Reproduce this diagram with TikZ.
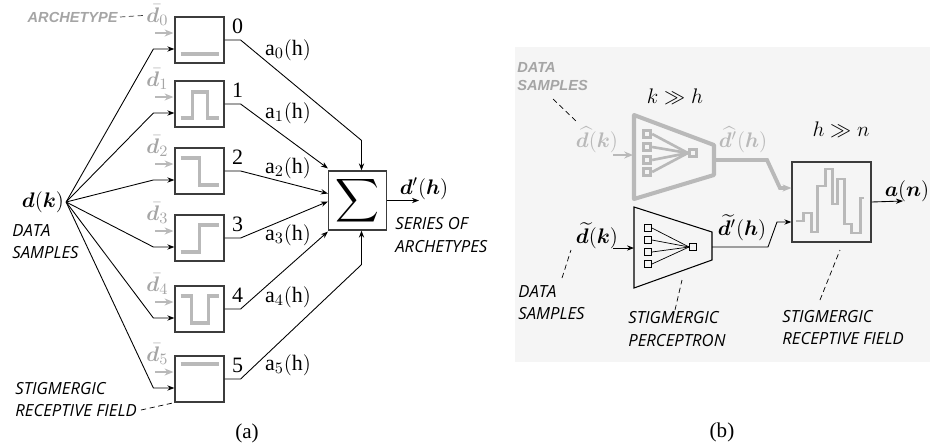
\documentclass[tikz,border=0pt]{standalone}
\usepackage{fontspec}
\setmainfont{Liberation Serif}
\setsansfont{Open Sans}
\newfontfamily\ghostfont{Liberation Sans}
\usepackage{amsmath}
\usepackage{amssymb}
\usepackage{bm}
\usetikzlibrary{arrows.meta, positioning, calc}

\definecolor{ghost}{RGB}{185,185,185}
\definecolor{ghosttext}{RGB}{165,165,165}
\definecolor{panelbg}{RGB}{245,245,245}
\definecolor{boxline}{RGB}{60,60,60}

\begin{document}
\begin{tikzpicture}[x=0.02cm, y=-0.02cm,
    arch/.style={draw=boxline, line width=0.7pt, minimum width=0.98cm, minimum height=0.92cm, inner sep=0pt},
    sumbox/.style={draw=boxline, line width=0.7pt, minimum width=1.16cm, minimum height=1.18cm, inner sep=0pt},
    fieldbox/.style={draw=boxline, line width=0.7pt, minimum width=1.58cm, minimum height=1.6cm, inner sep=0pt},
    cellsq/.style={draw, line width=0.5pt, minimum size=0.14cm, inner sep=0pt},
    ghostsq/.style={draw=ghost, line width=1.6pt, minimum size=0.15cm, inner sep=0pt},
    wave/.style={draw=ghost, line width=2.2pt},
    flow/.style={-{Stealth[length=4pt,width=3pt]}, line width=0.5pt},
    ghostflow/.style={-{Stealth[length=5pt,width=4pt]}, draw=ghost},
    sym/.style={font=\fontsize{12.5}{14}\selectfont, inner sep=1pt},
    note/.style={font=\fontsize{9.5}{12.8}\selectfont\sffamily\itshape, align=left, inner sep=0pt},
    ghostnote/.style={font=\fontsize{8.3}{9.8}\selectfont\ghostfont\bfseries\itshape, text=ghosttext, align=left, inner sep=0pt},
    pointer/.style={densely dashed, line width=0.4pt}
]
\useasboundingbox (0,0) rectangle (930,447);

% Left: series of archetypes
\foreach \i/\y in {0/40,1/104,2/171,3/238,4/309,5/379}
  \node[arch] (arch\i) at (199.5,\y) {};

\node[sym] (dk) at (43,202) {$\bm{d}(\bm{k})$};
\node[sumbox] (sum) at (357.5,200.5) {\LARGE$\displaystyle\sum$};

% archetype shapes
\draw[wave, shift={(arch0.center)}] (-19,14) -- (19,14);
\draw[wave, shift={(arch1.center)}] (-19,14) -- (-7,14) -- (-7,-12) -- (8,-12) -- (8,14) -- (19,14);
\draw[wave, shift={(arch2.center)}] (-19,-13) -- (0,-13) -- (0,14) -- (19,14);
\draw[wave, shift={(arch3.center)}] (-19,14) -- (0,14) -- (0,-13) -- (19,-13);
\draw[wave, shift={(arch4.center)}] (-19,-13) -- (-8,-13) -- (-8,14) -- (9,14) -- (9,-13) -- (19,-13);
\draw[wave, shift={(arch5.center)}] (-19,-15) -- (19,-15);

\foreach \i in {0,...,5}{
  \draw[ghostflow, line width=1pt] ($(arch\i.west)+(-19,-7)$) -- ($(arch\i.west)+(-1,-7)$);
  \node[sym, text=ghosttext] (dbar\i) at ($(arch\i.north west)+(-17,-1)$) {$\bar{\bm{d}}_{\i}$};
  \draw[flow] (dk.east) -- ($(arch\i.west)+(-21,9)$) -- ($(arch\i.west)+(0,9)$);
  \node[sym] (num\i) at ($(arch\i.north east)+(13,10)$) {\i};
}

% weighted archetypes into the sum
\draw[flow] (arch0.east) -- ++(16,0) -- ($(sum.north)+(4,-30)$) -- ($(sum.north)+(4,0)$);
\draw[flow] (arch1.east) -- ++(16,0) -- ($(sum.north west)+(0,-2)$);
\draw[flow] (arch2.east) -- ++(16,0) -- ($(sum.west)+(0,-7)$);
\draw[flow] (arch3.east) -- ++(16,0) -- ($(sum.west)+(0,1)$);
\draw[flow] (arch4.east) -- ++(16,0) -- ($(sum.south west)+(0,1)$);
\draw[flow] (arch5.east) -- ++(16,0) -- ($(sum.south)+(4,34)$) -- ($(sum.south)+(4,0)$);

\foreach \i/\y in {0/50,1/113,2/168,3/235,4/297,5/365}
  \node[sym] (a\i) at (288,\y) {$\mathrm{a}_{\i}(\mathrm{h})$};

\coordinate (dout) at (419,200.5);
\draw[flow] (sum.east) -- (dout);
\node[sym] (dprime) at (424,189) {$\bm{d}'(\bm{h})$};

\node[ghostnote, anchor=east] (archnote) at (118,17) {ARCHETYPE};
\draw[pointer, boxline] (archnote.east) ++(2,0) -- (dbar0.west);
\node[note, anchor=west] (datanote) at (12,241.5) {DATA\\SAMPLES};
\node[note, anchor=west] (seriesnote) at (395,235) {SERIES OF\\ARCHETYPES};
\node[note, anchor=west] (fieldnote) at (15,399.5) {STIGMERGIC\\RECEPTIVE FIELD};
\draw[pointer] (141,410) -- (arch5.south west);

\node[font=\fontsize{12}{14}\selectfont] (capa) at (247,433) {(a)};

% Right: stigmergic perceptron
\fill[panelbg] (515,47) rectangle (930,362);

% ghost perceptron (k >> h)
\draw[ghost, line width=2.3pt, line join=round] (634,115) -- (714,145) -- (714,175) -- (634,199) -- cycle;
\foreach \j/\y in {1/134,2/147,3/160,4/172}
  \node[ghostsq] (g\j) at (647,\y) {};
\node[ghostsq] (gsink) at (693,153) {};
\foreach \j in {1,...,4}
  \draw[ghost, line width=1.5pt] (g\j.east) -- (gsink.west);

\node[fieldbox] (field) at (831.5,202) {};
\draw[wave, line width=1.7pt, line join=miter] (796,221) -- (803,221) -- (803,213) -- (811,213) -- (811,232) -- (817,232) -- (817,186)
  -- (825,186) -- (825,169) -- (832,169) -- (832,204) -- (837,204) -- (837,179) -- (844,179) -- (844,224)
  -- (851,224) -- (851,233) -- (860,233) -- (860,198) -- (864,198);

\coordinate (gsrc) at (613,155);
\coordinate (gin) at (633,155);
\coordinate (gexit) at (714,160);
\draw[ghostflow, line width=1.2pt] (gsrc) -- (gin);
\draw[ghostflow, line width=2.2pt] (gexit) -- (767,160) -- (780,188) -- ($(field.west)+(0,-14)$);

\node[sym, text=ghost] (dhat) at (597,140) {$\widehat{\bm{d}}(\bm{k})$};
\node[sym, text=ghost] (dhatp) at (743,140) {$\widehat{\bm{d}}'(\bm{h})$};
\node[sym] (kh) at (675,97) {$k \gg h$};
\node[sym] (hn) at (841,130) {$h \gg n$};

% stigmergic perceptron
\draw[line width=0.6pt] (634,207) -- (712,232) -- (712,260) -- (634,288) -- cycle;
\foreach \j/\y in {1/228,2/240,3/252,4/264}
  \node[cellsq] (s\j) at (648,\y) {};
\node[cellsq] (sink) at (693,247) {};
\foreach \j in {1,...,4}
  \draw[line width=0.4pt] (s\j.east) -- (sink.west);

\coordinate (dsrc) at (613,248);
\coordinate (pin) at (634,248);
\coordinate (pout) at (712,247);
\draw[flow] (dsrc) -- (pin);
\draw[flow] (pout) -- (768,247) -- (777,222) -- ($(field.west)+(0,20)$);

\node[sym] (dtil) at (597,236) {$\widetilde{\bm{d}}(\bm{k})$};
\node[sym] (dtilp) at (742,228) {$\widetilde{\bm{d}}'(\bm{h})$};

\coordinate (aout) at (903,201);
\draw[flow] (field.east) -- (aout);
\node[sym] (an) at (907,191) {$\bm{a}(\bm{n})$};

\node[ghostnote, anchor=west] (gdatanote) at (517,76.5) {DATA\\SAMPLES};
\draw[pointer] (553,99) -- (578,123);
\node[note, anchor=west] (datanote2) at (518,302.5) {DATA\\SAMPLES};
\draw[pointer] (562,278) -- (571,250);
\node[note, anchor=west] (percnote) at (628,329) {STIGMERGIC\\PERCEPTRON};
\draw[pointer] (675,310) -- (682,280);
\node[note, anchor=west] (fieldnote2) at (782,327.5) {STIGMERGIC\\RECEPTIVE FIELD};
\draw[pointer] (820,300) -- (840,250);

\node[font=\fontsize{12}{14}\selectfont] (capb) at (722,432) {(b)};

\end{tikzpicture}
\end{document}
